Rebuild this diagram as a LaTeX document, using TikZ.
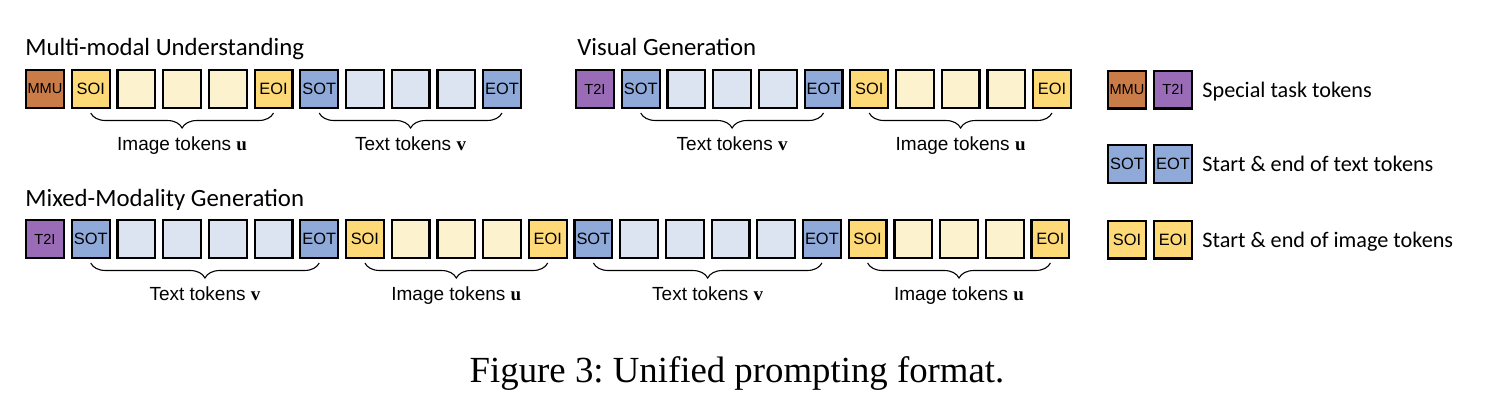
\documentclass[tikz,border=0pt]{standalone}
\usepackage{fontspec}
\setmainfont{Liberation Serif}
\setsansfont{Liberation Sans}
\newfontfamily\headfont{Carlito}
\usetikzlibrary{decorations.pathreplacing}
\definecolor{mmuc}{HTML}{C97B48}
\definecolor{tiic}{HTML}{9A6CB8}
\definecolor{tagtc}{HTML}{8FA9D9}
\definecolor{txtc}{HTML}{DCE3F1}
\definecolor{tagic}{HTML}{FDD977}
\definecolor{imgc}{HTML}{FDF2CE}
\tikzset{
  tok/.style={draw=black, line width=1.1pt, minimum size=18.9pt, inner sep=0pt,
    font=\sffamily\fontsize{7.3}{8}\selectfont},
  mmu/.style={tok, fill=mmuc},
  tii/.style={tok, fill=tiic},
  tagt/.style={tok, fill=tagtc, font=\sffamily\fontsize{8.2}{9}\selectfont},
  txt/.style={tok, fill=txtc},
  tagi/.style={tok, fill=tagic, font=\sffamily\fontsize{8.2}{9}\selectfont},
  img/.style={tok, fill=imgc},
  head/.style={anchor=base west, inner sep=0pt, font=\headfont\fontsize{12.4}{14}\selectfont},
  key/.style={anchor=base west, inner sep=0pt, font=\headfont\fontsize{11.1}{13}\selectfont},
  brc/.style={decorate, decoration={brace, mirror, amplitude=7.5pt}, line width=0.55pt},
  lab/.style={midway, below=11.5pt, inner sep=0pt, font=\sffamily\fontsize{9.5}{11}\selectfont}
}
\begin{document}
\begin{tikzpicture}[x=0.5pt, y=-0.5pt]
  \useasboundingbox (0,0) rectangle (1504,414);
  % titles
  \node[head] (t1) at (25,55) {Multi-modal Understanding};
  \node[head] (t2) at (577,55) {Visual Generation};
  \node[head] (t3) at (25,206) {Mixed-Modality Generation};
  % multi-modal understanding
  \draw
    (45,89) node[mmu] (a0){MMU}
    (90.7,89) node[tagi] (a1){SOI}
    (136.4,89) node[img] (a2){}
    (182.1,89) node[img] (a3){}
    (227.8,89) node[img] (a4){}
    (273.5,89) node[tagi] (a5){EOI}
    (319.2,89) node[tagt] (a6){SOT}
    (364.9,89) node[txt] (a7){}
    (410.6,89) node[txt] (a8){}
    (456.3,89) node[txt] (a9){}
    (502,89) node[tagt] (a10){EOT};
  % visual generation
  \draw
    (595,89) node[tii] (b0){T2I}
    (640.7,89) node[tagt] (b1){SOT}
    (686.4,89) node[txt] (b2){}
    (732.1,89) node[txt] (b3){}
    (777.8,89) node[txt] (b4){}
    (823.5,89) node[tagt] (b5){EOT}
    (869.2,89) node[tagi] (b6){SOI}
    (914.9,89) node[img] (b7){}
    (960.6,89) node[img] (b8){}
    (1006.3,89) node[img] (b9){}
    (1052,89) node[tagi] (b10){EOI};
  % mixed-modality generation
  \draw
    (45,239) node[tii] (c0){T2I}
    (90.7,239) node[tagt] (c1){SOT}
    (136.4,239) node[txt] (c2){}
    (182.1,239) node[txt] (c3){}
    (227.8,239) node[txt] (c4){}
    (273.5,239) node[txt] (c5){}
    (319.2,239) node[tagt] (c6){EOT}
    (364.9,239) node[tagi] (c7){SOI}
    (410.6,239) node[img] (c8){}
    (456.3,239) node[img] (c9){}
    (502,239) node[img] (c10){}
    (547.7,239) node[tagi] (c11){EOI}
    (593.4,239) node[tagt] (c12){SOT}
    (639.1,239) node[txt] (c13){}
    (684.8,239) node[txt] (c14){}
    (730.5,239) node[txt] (c15){}
    (776.2,239) node[txt] (c16){}
    (821.9,239) node[tagt] (c17){EOT}
    (867.6,239) node[tagi] (c18){SOI}
    (913.3,239) node[img] (c19){}
    (959,239) node[img] (c20){}
    (1004.7,239) node[img] (c21){}
    (1050.4,239) node[tagi] (c22){EOI};
  % braces
  \draw[brc] ([yshift=-2pt]a1.south) -- ([yshift=-2pt]a5.south) node[lab]{Image tokens $\mathbf{u}$};
  \draw[brc] ([yshift=-2pt]a6.south) -- ([yshift=-2pt]a10.south) node[lab]{Text tokens $\mathbf{v}$};
  \draw[brc] ([yshift=-2pt]b1.south) -- ([yshift=-2pt]b5.south) node[lab]{Text tokens $\mathbf{v}$};
  \draw[brc] ([yshift=-2pt]b6.south) -- ([yshift=-2pt]b10.south) node[lab]{Image tokens $\mathbf{u}$};
  \draw[brc] ([yshift=-2pt]c1.south) -- ([yshift=-2pt]c6.south) node[lab]{Text tokens $\mathbf{v}$};
  \draw[brc] ([yshift=-2pt]c7.south) -- ([yshift=-2pt]c11.south) node[lab]{Image tokens $\mathbf{u}$};
  \draw[brc] ([yshift=-2pt]c12.south) -- ([yshift=-2pt]c17.south) node[lab]{Text tokens $\mathbf{v}$};
  \draw[brc] ([yshift=-2pt]c18.south) -- ([yshift=-2pt]c22.south) node[lab]{Image tokens $\mathbf{u}$};
  % legend
  \draw
    (1127,89.5) node[mmu] (l1){MMU}
    (1173,89.5) node[tii] (l2){T2I}
    (1127,164) node[tagt] (l3){SOT}
    (1173,164) node[tagt] (l4){EOT}
    (1127,239.5) node[tagi] (l5){SOI}
    (1173,239.5) node[tagi] (l6){EOI};
  \node[key] (k1) at (1202,97) {Special task tokens};
  \node[key] (k2) at (1202,171.5) {Start \& end of text tokens};
  \node[key] (k3) at (1202,247) {Start \& end of image tokens};
  % caption
  \node[anchor=base, inner sep=0pt, font=\fontsize{18.4}{22}\selectfont] (cap) at (737,382)
    {\frenchspacing Figure 3: Unified prompting format.};
\end{tikzpicture}
\end{document}
